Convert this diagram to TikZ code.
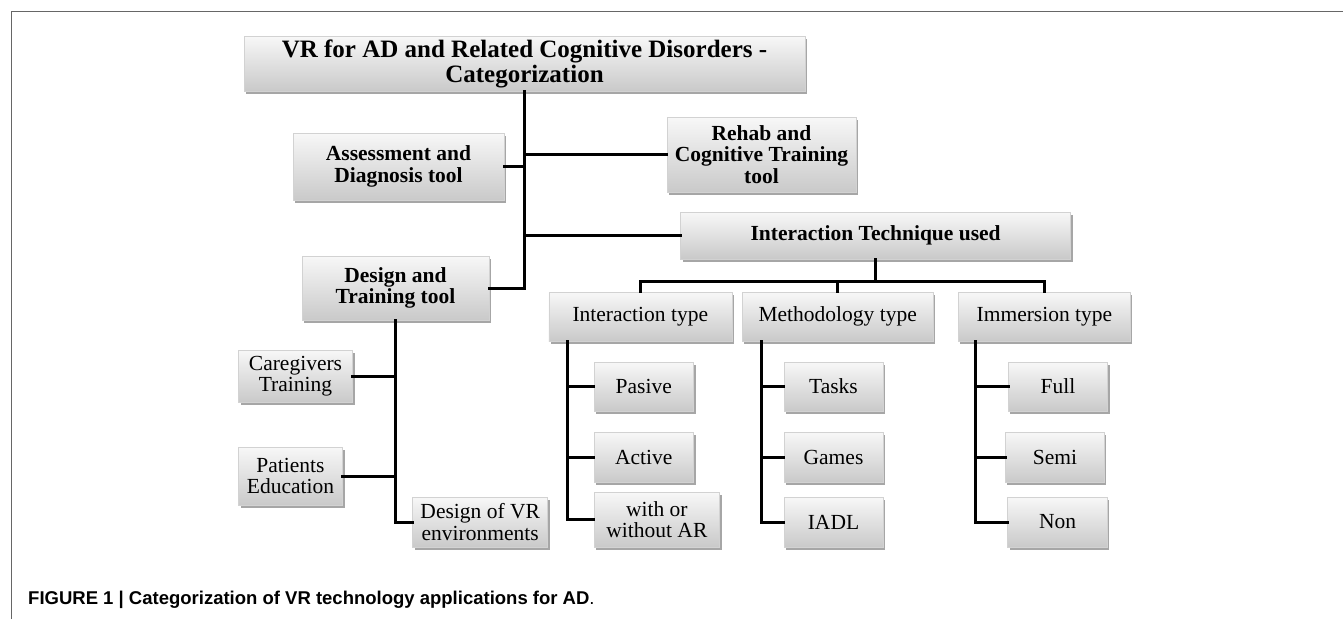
\documentclass[tikz,border=0pt]{standalone}
\usepackage{fontspec}
\setmainfont{Liberation Serif}
\newfontfamily\capfont{Liberation Sans}
\usetikzlibrary{shadows,calc}
\tikzset{
  box/.style={draw=gray!35, line width=0.6pt, inner sep=2pt, align=center,
    top color=gray!6, middle color=white, bottom color=gray!42,
    drop shadow={shadow xshift=2pt, shadow yshift=-2.5pt, opacity=0.35, fill=black},
    font=\fontsize{21.5}{21.5}\selectfont},
  boldbox/.style={box, font=\fontsize{21.5}{21.5}\selectfont\bfseries},
  rootbox/.style={box, font=\fontsize{25}{25}\selectfont\bfseries},
  link/.style={line width=3pt, line cap=rect},
  frame/.style={draw=black!60, line width=1.4pt}
}
\begin{document}
\begin{tikzpicture}[x=1pt,y=-1pt]
\useasboundingbox (0,0) rectangle (1343,619);
\draw[frame] (11.7,619) -- (11.7,11.7) -- (1343,11.7);

% top level
\node[rootbox, minimum width=561pt, minimum height=55pt] (root) at (524.5,63.5)
  {VR for AD and Related Cognitive Disorders -\\Categorization};
\node[boldbox, minimum width=211pt, minimum height=67pt] (assess) at (398.5,166.5)
  {Assessment and\\Diagnosis tool};
\node[boldbox, minimum width=189pt, minimum height=75pt] (rehab) at (761.5,154.5)
  {Rehab and\\Cognitive Training\\tool};
\node[boldbox, minimum width=390pt, minimum height=47pt] (itu) at (875.6,235.5)
  {Interaction Technique used};
\node[boldbox, minimum width=187pt, minimum height=64pt] (design) at (395.5,288)
  {Design and\\Training tool};

% technique types
\node[box, minimum width=183pt, minimum height=49pt] (inttype) at (640.3,316.5) {Interaction type};
\node[box, minimum width=191pt, minimum height=49pt] (meth) at (837.7,316.5) {Methodology type};
\node[box, minimum width=172pt, minimum height=49pt] (imm) at (1044.4,316.5) {Immersion type};

% interaction children
\node[box, minimum width=99.5pt, minimum height=49pt] (pasive) at (643.8,386.5) {Pasive};
\node[box, minimum width=99.5pt, minimum height=50pt] (active) at (643.8,457) {Active};
\node[box, minimum width=125.7pt, minimum height=55pt] (withor) at (656.9,519.5) {with or\\without AR};

% methodology children
\node[box, minimum width=99pt, minimum height=49pt] (tasks) at (833.5,386.5) {Tasks};
\node[box, minimum width=99pt, minimum height=50pt] (games) at (833.5,457) {Games};
\node[box, minimum width=99pt, minimum height=50pt] (iadl) at (833.5,522) {IADL};

% immersion children
\node[box, minimum width=99.3pt, minimum height=49pt] (full) at (1058,386.5) {Full};
\node[box, minimum width=99pt, minimum height=50pt] (semi) at (1054.9,457) {Semi};
\node[box, minimum width=99.7pt, minimum height=50pt] (non) at (1057.5,522) {Non};

% design children
\node[box, minimum width=114pt, minimum height=52pt] (care) at (295.5,376) {Caregivers\\Training};
\node[box, minimum width=104pt, minimum height=58pt] (patients) at (290.5,476) {Patients\\Education};
\node[box, minimum width=135pt, minimum height=50pt] (designvr) at (480.2,522) {Design of VR\\environments};

% connectors: trunk
\draw[link] (root.south) -- (root.south |- design.east);
\draw[link] (assess.east) -- (root.south |- assess.east);
\draw[link] (root.south |- rehab.west) -- (rehab.west);
\draw[link] (root.south |- itu.west) -- (itu.west);
\draw[link] (design.east) -- (root.south |- design.east);

% technique bar
\coordinate (bar) at (0,281);
\draw[link] (itu.south) -- (itu.south |- bar);
\draw[link] (inttype.north) -- (inttype.north |- bar) -- (imm.north |- bar) -- (imm.north);
\draw[link] (meth.north |- bar) -- (meth.north);

% interaction type branch
\coordinate (itv) at ($(inttype.south west)+(18.6,0)$);
\draw[link] (itv) |- (withor.west);
\draw[link] (itv |- pasive.west) -- (pasive.west);
\draw[link] (itv |- active.west) -- (active.west);

% methodology branch
\coordinate (mtv) at ($(meth.south west)+(19.5,0)$);
\draw[link] (mtv) |- (iadl.west);
\draw[link] (mtv |- tasks.west) -- (tasks.west);
\draw[link] (mtv |- games.west) -- (games.west);

% immersion branch
\coordinate (imv) at ($(imm.south west)+(17.5,0)$);
\draw[link] (imv) |- (non.west);
\draw[link] (imv |- full.west) -- (full.west);
\draw[link] (imv |- semi.west) -- (semi.west);

% design branch
\draw[link] (design.south) |- (designvr.west);
\draw[link] (care.east) -- (design.south |- care.east);
\draw[link] (patients.east) -- (design.south |- patients.east);

% caption
\node[anchor=base west, inner sep=0pt, font=\fontsize{18.5}{18.5}\selectfont\capfont] (caption) at (28,604)
  {\bfseries FIGURE 1 | Categorization of VR technology applications for AD\mdseries.};
\end{tikzpicture}
\end{document}
